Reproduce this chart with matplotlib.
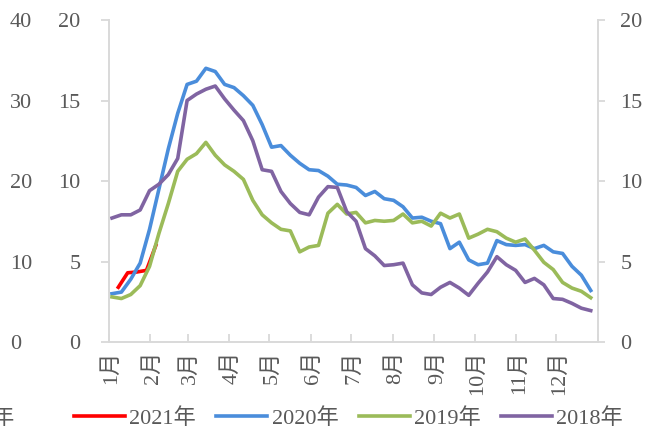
import numpy as np
import matplotlib
matplotlib.use('Agg')
import matplotlib.pyplot as plt
from matplotlib.transforms import ScaledTranslation

plt.rcParams['font.family'] = ['Liberation Serif', 'Noto Sans CJK SC']

# weekly values
y2021 = [3.4, 4.3, 4.35, 4.45, 6.0]
y2020 = [3.0, 3.1, 3.9, 4.9, 7.0, 9.5, 12.0, 14.2, 16.0, 16.2, 17.0, 16.8, 16.0,
         15.8, 15.3, 14.7, 13.5, 12.1, 12.2, 11.6, 11.1, 10.7, 10.65, 10.3, 9.8, 9.75,
         9.6, 9.1, 9.35, 8.9, 8.8, 8.4, 7.7, 7.75, 7.5, 7.35, 5.8, 6.2, 5.1, 4.8,
         4.9, 6.3, 6.05, 6.0, 6.05, 5.8, 6.0, 5.6, 5.5, 4.7, 4.15, 3.2]
y2019 = [2.8, 2.7, 2.95, 3.5, 4.7, 6.75, 8.6, 10.6, 11.35, 11.7, 12.4, 11.6, 11.0,
         10.6, 10.1, 8.8, 7.9, 7.4, 7.0, 6.9, 5.6, 5.9, 6.0, 8.0, 8.55, 7.95,
         8.05, 7.4, 7.55, 7.5, 7.55, 7.95, 7.4, 7.5, 7.2, 8.0, 7.7, 7.95, 6.45, 6.7,
         7.0, 6.85, 6.45, 6.2, 6.4, 5.7, 4.95, 4.5, 3.7, 3.35, 3.15, 2.75]
y2018 = [7.7, 7.9, 7.9, 8.2, 9.4, 9.8, 10.4, 11.4, 15.0, 15.4, 15.7, 15.9, 15.1,
         14.4, 13.75, 12.5, 10.7, 10.6, 9.35, 8.6, 8.05, 7.9, 9.0, 9.65, 9.6, 8.1,
         7.5, 5.8, 5.35, 4.75, 4.8, 4.9, 3.55, 3.05, 2.95, 3.4, 3.7, 3.35, 2.9, 3.65,
         4.35, 5.3, 4.8, 4.45, 3.7, 3.95, 3.55, 2.7, 2.65, 2.4, 2.1, 1.95]
months = ['%d月' % m for m in range(1, 13)]
month_days = [31, 28, 31, 30, 31, 30, 31, 31, 30, 31, 30, 31]
left_ticks = [0, 5, 10, 15, 20]
outer_ticks = [0, 10, 20, 30, 40]

text_c = '#595959'
axis_c = '#d9d9d9'

fig = plt.figure(figsize=(6.49, 4.36), dpi=100)
ax = fig.add_axes([0.1672, 0.2156, 0.7542, 0.7385])

# weekly points on a day-of-year axis
day = 2.6 + 7 * np.arange(len(y2020))
day21 = 7.3 + 7 * np.arange(len(y2021))
lw = 2.6
ax.plot(day21, y2021, color='#ff0000', lw=lw, label='2021年')
ax.plot(day, y2020, color='#4a8ddb', lw=lw, label='2020年')
ax.plot(day, y2019, color='#9bbb59', lw=lw, label='2019年')
ax.plot(day, y2018, color='#8064a2', lw=lw, label='2018年')

month_start = np.concatenate([[0], np.cumsum(month_days)])
ax.set_xlim(0, 365)
ax.set_ylim(0, 20)

ax.set_xticks(month_start)
ax.set_xticklabels(months + [''], rotation=90, fontsize=16, color=text_c)
ax.tick_params(axis='x', direction='in', length=6, color=axis_c, width=1.3, pad=6)
shift = ScaledTranslation(0.025, 0, fig.dpi_scale_trans)
for lbl in ax.get_xticklabels():
    lbl.set_transform(lbl.get_transform() + shift)

ax.set_yticks(left_ticks)
ax.tick_params(axis='y', direction='out', length=6, color=axis_c, width=1.3,
               labelsize=16, labelcolor=text_c, pad=14)

for s in ['top', 'right']:
    ax.spines[s].set_visible(False)
for s in ['left', 'bottom']:
    ax.spines[s].set_color(axis_c)
    ax.spines[s].set_linewidth(1.4)

# right axis
ax_r = ax.twinx()
ax_r.set_ylim(0, 20)
ax_r.set_yticks(left_ticks)
ax_r.tick_params(axis='y', direction='out', length=5, color=axis_c, width=1.3,
                 labelsize=16, labelcolor=text_c, pad=11)
for s in ['top', 'left', 'bottom']:
    ax_r.spines[s].set_visible(False)
ax_r.spines['right'].set_color(axis_c)
ax_r.spines['right'].set_linewidth(1.4)

# outer left axis (0-40)
ax_o = ax.twinx()
ax_o.set_ylim(0, 40)
ax_o.set_yticks(outer_ticks)
ax_o.yaxis.set_ticks_position('left')
ax_o.tick_params(axis='y', length=0, labelsize=16, labelcolor=text_c, pad=71)
plt.setp(ax_o.get_yticklabels(), ha='left')
for s in ax_o.spines.values():
    s.set_visible(False)

fig.legend(loc='center', bbox_to_anchor=(0.537, 0.041), ncol=4, frameon=False,
           fontsize=16, labelcolor=text_c, handlelength=2.3, handletextpad=0.2,
           columnspacing=0.9)
fig.text(-0.012, 0.041, '年', fontsize=16, color=text_c, ha='left', va='center')

fig.savefig('out.png', dpi=100)
